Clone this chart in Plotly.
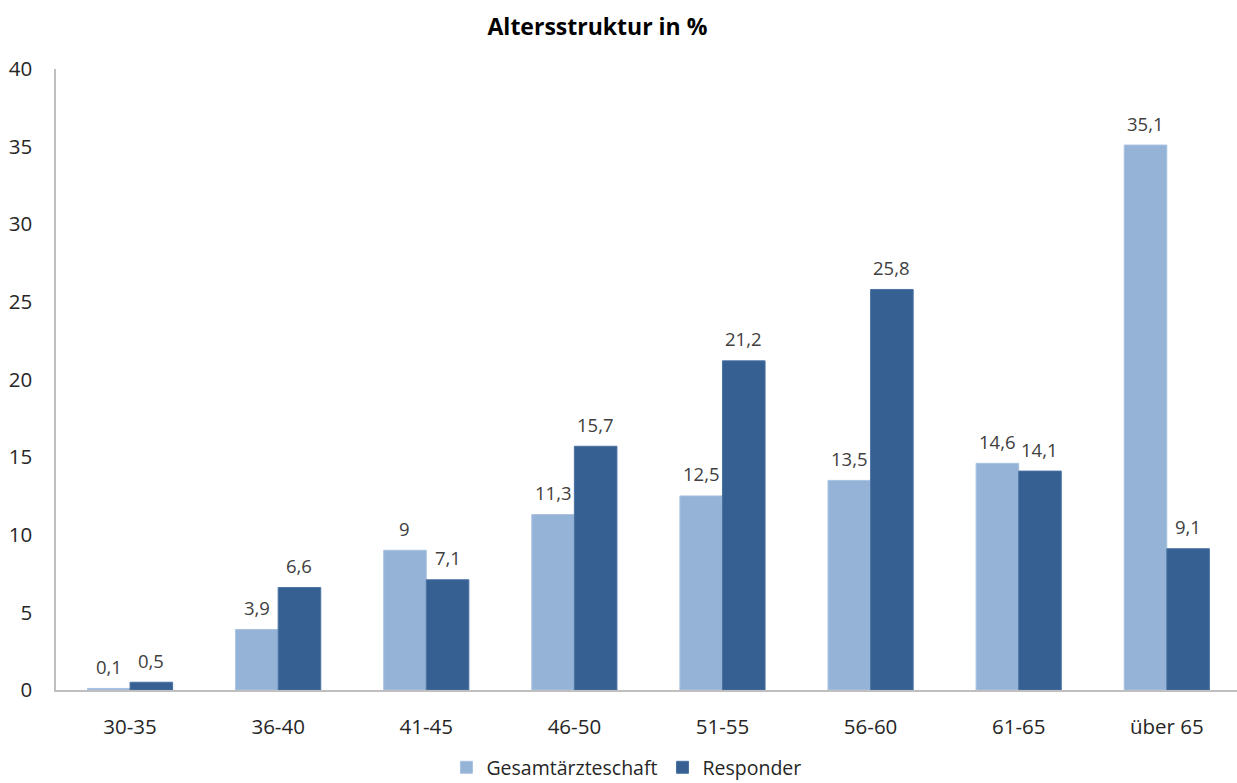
import plotly.graph_objects as go

categories = ["30-35", "36-40", "41-45", "46-50", "51-55", "56-60", "61-65", "über 65"]
gesamt = [0.1, 3.9, 9, 11.3, 12.5, 13.5, 14.6, 35.1]
responder = [0.5, 6.6, 7.1, 15.7, 21.2, 25.8, 14.1, 9.1]
y_ticks = [0, 5, 10, 15, 20, 25, 30, 35, 40]


def de_label(v):
    return f"{v:g}".replace(".", ",")


FONT = "Open Sans"
W, H = 1237, 783
ML, MR, MT, MB = 56, 0, 69, 93
BARGAP = 0.425
X_RANGE = [-0.5, 7.474]

fig = go.Figure()
fig.add_trace(go.Bar(
    x=categories, y=gesamt, name="Gesamtärzteschaft",
    marker=dict(color="#95b3d7", line=dict(color="#a9c2e0", width=1)),
))
fig.add_trace(go.Bar(
    x=categories, y=responder, name="Responder",
    marker=dict(color="#366092", line=dict(color="#4a72a3", width=1)),
))

# value labels centred above each bar of the group
cat_px = (W - ML - MR) / (X_RANGE[1] - X_RANGE[0])
half_bar = cat_px * (1 - BARGAP) / 4
for series, sign in ((gesamt, -1), (responder, 1)):
    for cat, v in zip(categories, series):
        fig.add_annotation(
            x=cat, y=v, text=de_label(v), showarrow=False,
            xshift=sign * half_bar, yshift=22, yanchor="middle",
            font=dict(family=FONT, size=18.5, color="#404040"),
        )

fig.update_layout(
    width=W, height=H,
    margin=dict(l=ML, r=MR, t=MT, b=MB, autoexpand=False),
    paper_bgcolor="white", plot_bgcolor="white",
    barmode="group", bargap=BARGAP, bargroupgap=0,
    title=dict(text="<b>Altersstruktur in %</b>", x=0.483, xanchor="center",
               y=0.965, yanchor="middle",
               font=dict(family=FONT, size=23, color="#000000")),
    font=dict(family=FONT, size=20, color="#262626"),
    showlegend=True,
    legend=dict(orientation="h", x=0.483, xanchor="center", y=-0.125, yanchor="middle",
                font=dict(family=FONT, size=19.5, color="#262626"),
                itemwidth=30, tracegroupgap=0),
)
fig.update_xaxes(showline=True, linecolor="#bfbfbf", linewidth=1.5,
                 showgrid=False, ticks="", ticklabelstandoff=18,
                 range=X_RANGE,
                 tickfont=dict(family=FONT, size=20.5, color="#262626"))
fig.update_yaxes(range=[0, 40], tickvals=y_ticks, showline=True, linecolor="#bfbfbf",
                 linewidth=1.5, showgrid=False, ticks="", zeroline=False,
                 ticklabelstandoff=18,
                 tickfont=dict(family=FONT, size=20.5, color="#262626"))

fig.write_html("out.html")
